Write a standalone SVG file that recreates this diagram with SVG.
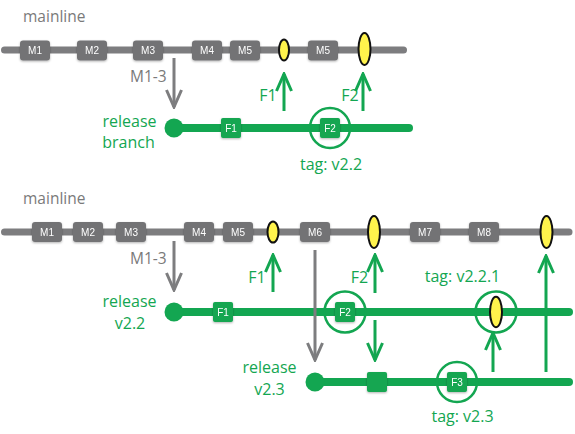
<svg xmlns="http://www.w3.org/2000/svg" width="575" height="434" viewBox="0 0 575 434">
<style>
.bg{fill:#ffffff}
.main{stroke:#7d7d7f;stroke-width:7;stroke-linecap:round;fill:none}
.rel{stroke:#13a651;stroke-width:8;stroke-linecap:round;fill:none}
.mbox{fill:#737375}
.gbox{fill:#13a651}
.blbl{fill:#ffffff;font-family:"Liberation Sans",Arial,sans-serif;font-size:10px;text-anchor:middle}
.yel{fill:#fff34c;stroke:#111111;stroke-width:2}
.tagc{fill:none;stroke:#13a651;stroke-width:2.5}
.start{fill:#13a651}
.garr{stroke:#7d7d7f;stroke-width:3;fill:none}
.narr{stroke:#13a651;stroke-width:3;fill:none}
.gtxt{fill:#7a7a7a;font-family:"Open Sans","Liberation Sans",sans-serif;font-size:15.5px}
.ntxt{fill:#13a651;font-family:"Open Sans","Liberation Sans",sans-serif;font-size:16px;text-anchor:middle}
</style>
<defs>
<filter id="sh" x="-20%" y="-20%" width="140%" height="160%">
<feDropShadow dx="0" dy="1" stdDeviation="0.8" flood-color="#000000" flood-opacity="0.3"/>
</filter>
<marker id="ag" markerUnits="userSpaceOnUse" viewBox="-20 -10 22 20" refX="0" refY="0" markerWidth="22" markerHeight="20" orient="auto">
<path d="M-17,-7.5 L0,0 L-17,7.5" fill="none" stroke="#7d7d7f" stroke-width="3"/>
</marker>
<marker id="an" markerUnits="userSpaceOnUse" viewBox="-20 -10 22 20" refX="0" refY="0" markerWidth="22" markerHeight="20" orient="auto">
<path d="M-17,-7.5 L0,0 L-17,7.5" fill="none" stroke="#13a651" stroke-width="3"/>
</marker>
<path id="bigY" d="M0,-16 C3.5,-16 6,-8 6,0 C6,8 3.5,16 0,16 C-3.5,16 -6,8 -6,0 C-6,-8 -3.5,-16 0,-16 Z"/>
</defs>
<rect class="bg" x="0" y="0" width="575" height="434"/>

<!-- ===== TOP DIAGRAM ===== -->
<g id="top-mainline">
<text class="gtxt" x="23" y="21.5">mainline</text>
<line class="main" x1="4.5" y1="50" x2="403.5" y2="50"/>
</g>
<g id="top-release-branch">
<line class="rel" x1="174" y1="128" x2="409" y2="128"/>
<circle class="start" cx="174" cy="128" r="9.5"/>
<text class="ntxt" x="129.5" y="126.5">release</text>
<text class="ntxt" x="128.5" y="148">branch</text>
</g>
<g id="t-M1" filter="url(#sh)"><rect class="mbox" x="20" y="40.5" width="30" height="20" rx="3"/><text class="blbl" x="35" y="54">M1</text></g>
<g id="t-M2" filter="url(#sh)"><rect class="mbox" x="77" y="40.5" width="30" height="20" rx="3"/><text class="blbl" x="92" y="54">M2</text></g>
<g id="t-M3" filter="url(#sh)"><rect class="mbox" x="133" y="40.5" width="30" height="20" rx="3"/><text class="blbl" x="148" y="54">M3</text></g>
<g id="t-M4" filter="url(#sh)"><rect class="mbox" x="192" y="40.5" width="30" height="20" rx="3"/><text class="blbl" x="207" y="54">M4</text></g>
<g id="t-M5" filter="url(#sh)"><rect class="mbox" x="230" y="40.5" width="30" height="20" rx="3"/><text class="blbl" x="245" y="54">M5</text></g>
<g id="t-M5b" filter="url(#sh)"><rect class="mbox" x="308" y="40.5" width="30" height="20" rx="3"/><text class="blbl" x="323" y="54">M5</text></g>
<g id="t-Y1"><ellipse class="yel" cx="284" cy="50" rx="5" ry="10.5"/></g>
<g id="t-Y2"><use href="#bigY" class="yel" x="364.5" y="49"/></g>
<g id="t-F1" filter="url(#sh)"><rect class="gbox" x="221" y="118" width="20" height="20" rx="2"/><text class="blbl" x="231" y="131.5">F1</text></g>
<g id="t-F2">
<circle class="tagc" cx="330" cy="128" r="20"/>
<g filter="url(#sh)"><rect class="gbox" x="320" y="118" width="20" height="20" rx="2"/><text class="blbl" x="330" y="131.5">F2</text></g>
<text class="ntxt" x="331" y="170">tag: v2.2</text>
</g>

<!-- ===== BOTTOM DIAGRAM ===== -->
<g id="bottom-mainline">
<text class="gtxt" x="23" y="204">mainline</text>
<line class="main" x1="4.5" y1="232" x2="569" y2="232"/>
</g>
<g id="release-v22">
<line class="rel" x1="174" y1="312" x2="569" y2="312"/>
<circle class="start" cx="174" cy="312" r="9.5"/>
<text class="ntxt" x="129.5" y="307">release</text>
<text class="ntxt" x="130" y="328.5">v2.2</text>
</g>
<g id="release-v23">
<line class="rel" x1="315" y1="382" x2="569" y2="382"/>
<circle class="start" cx="315" cy="382" r="9.5"/>
<text class="ntxt" x="269.5" y="373">release</text>
<text class="ntxt" x="269.5" y="395">v2.3</text>
</g>
<g id="b-M1" filter="url(#sh)"><rect class="mbox" x="32" y="222" width="30" height="20" rx="3"/><text class="blbl" x="47" y="235.5">M1</text></g>
<g id="b-M2" filter="url(#sh)"><rect class="mbox" x="73" y="222" width="30" height="20" rx="3"/><text class="blbl" x="88" y="235.5">M2</text></g>
<g id="b-M3" filter="url(#sh)"><rect class="mbox" x="116" y="222" width="30" height="20" rx="3"/><text class="blbl" x="131" y="235.5">M3</text></g>
<g id="b-M4" filter="url(#sh)"><rect class="mbox" x="184" y="222" width="30" height="20" rx="3"/><text class="blbl" x="199" y="235.5">M4</text></g>
<g id="b-M5" filter="url(#sh)"><rect class="mbox" x="223" y="222" width="30" height="20" rx="3"/><text class="blbl" x="238" y="235.5">M5</text></g>
<g id="b-M6" filter="url(#sh)"><rect class="mbox" x="300" y="222" width="30" height="20" rx="3"/><text class="blbl" x="315" y="235.5">M6</text></g>
<g id="b-M7" filter="url(#sh)"><rect class="mbox" x="410" y="222" width="30" height="20" rx="3"/><text class="blbl" x="425" y="235.5">M7</text></g>
<g id="b-M8" filter="url(#sh)"><rect class="mbox" x="469" y="222" width="30" height="20" rx="3"/><text class="blbl" x="484" y="235.5">M8</text></g>
<g id="b-Y1"><ellipse class="yel" cx="273" cy="232" rx="5.5" ry="10.5"/></g>
<g id="b-Y2"><use href="#bigY" class="yel" x="374" y="232"/></g>
<g id="b-Y3"><use href="#bigY" class="yel" x="546.5" y="232"/></g>
<g id="b-F1" filter="url(#sh)"><rect class="gbox" x="213" y="302" width="20" height="20" rx="2"/><text class="blbl" x="223" y="315.5">F1</text></g>
<g id="b-F2">
<circle class="tagc" cx="345" cy="312" r="20.5"/>
<g filter="url(#sh)"><rect class="gbox" x="335" y="302" width="20" height="20" rx="2"/><text class="blbl" x="345" y="315.5">F2</text></g>
</g>
<g id="b-tag221">
<circle class="tagc" cx="496" cy="312" r="20.5"/>
<use href="#bigY" class="yel" x="496" y="312" transform="translate(496 312) scale(1 0.95) translate(-496 -312)"/>
<text class="ntxt" x="462.5" y="282">tag: v2.2.1</text>
</g>
<g id="b-F2merge" filter="url(#sh)"><rect class="gbox" x="367" y="372" width="20" height="20" rx="2"/></g>
<g id="b-F3">
<circle class="tagc" cx="457" cy="382" r="20"/>
<g filter="url(#sh)"><rect class="gbox" x="447" y="372" width="20" height="20" rx="2"/><text class="blbl" x="457" y="385.5">F3</text></g>
<text class="ntxt" x="462.5" y="422">tag: v2.3</text>
</g>

<!-- ===== CONNECTORS ===== -->
<g id="connectors">
<line class="garr" x1="174" y1="58" x2="174" y2="107" marker-end="url(#ag)"/>
<text class="gtxt" x="130" y="82">M1-3</text>
<line class="narr" x1="284" y1="111" x2="284" y2="74" marker-end="url(#an)"/>
<text class="ntxt" x="268" y="101">F1</text>
<line class="narr" x1="363" y1="111" x2="363" y2="74" marker-end="url(#an)"/>
<text class="ntxt" x="350" y="101">F2</text>

<line class="garr" x1="174" y1="241" x2="174" y2="290" marker-end="url(#ag)"/>
<text class="gtxt" x="130" y="264">M1-3</text>
<line class="narr" x1="273" y1="292" x2="273" y2="255" marker-end="url(#an)"/>
<text class="ntxt" x="257" y="283">F1</text>
<line class="garr" x1="315" y1="250" x2="315" y2="360" marker-end="url(#ag)"/>
<line class="narr" x1="375" y1="293" x2="375" y2="255" marker-end="url(#an)"/>
<text class="ntxt" x="359.5" y="283">F2</text>
<line class="narr" x1="375" y1="320" x2="375" y2="360" marker-end="url(#an)"/>
<line class="narr" x1="493" y1="372" x2="493" y2="333" marker-end="url(#an)"/>
<line class="narr" x1="546" y1="372" x2="546" y2="256" marker-end="url(#an)"/>
</g>
</svg>
